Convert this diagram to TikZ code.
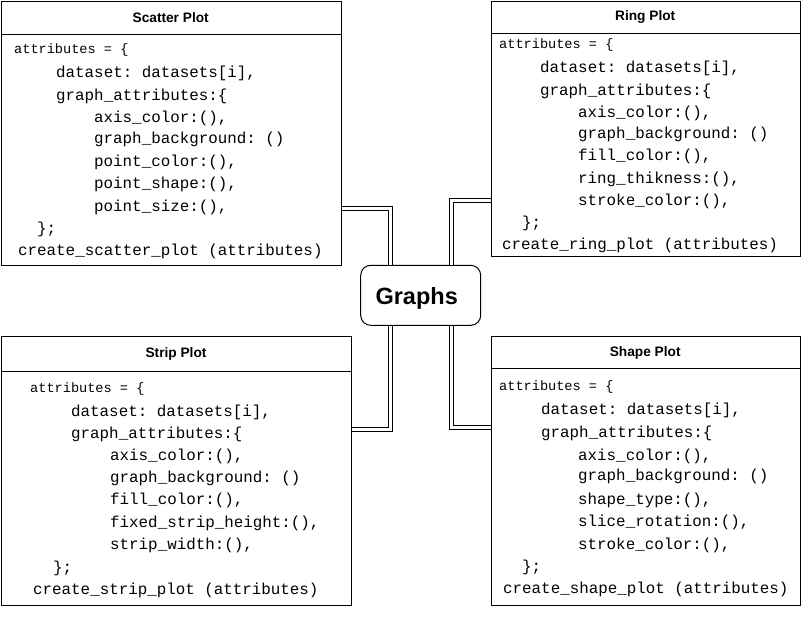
\documentclass[tikz,border=0pt]{standalone}
\usepackage{fontspec}
\setmainfont{Liberation Sans}
\setmonofont{Liberation Mono}
\begin{document}
\begin{tikzpicture}[x=1pt,y=-1pt,
  box/.style={draw, line width=1pt, inner sep=0pt, anchor=north west},
  titlestyle/.style={inner sep=0pt, font=\fontsize{13.7}{16}\selectfont\bfseries},
  codeline/.style={anchor=base west, inner sep=0pt, font=\ttfamily\fontsize{15.85}{19}\selectfont},
  attrline/.style={anchor=base west, inner sep=0pt, font=\ttfamily\fontsize{13.6}{16}\selectfont},
  hub/.style={draw, line width=1pt, rounded corners=10pt, minimum width=120pt, minimum height=60pt, inner sep=0pt, text height=18pt, text depth=0pt, font=\fontsize{23.5}{28}\selectfont\bfseries},
  link/.style={draw, line width=1pt, double, double distance=3pt}
]
\useasboundingbox (0,0) rectangle (801,619);
\fill[white] (0,0) rectangle (801,619);

% boxes
\node[box, minimum width=339.5pt, minimum height=263.5pt] (scatter) at (1,1) {};
\node[box, minimum width=309.5pt, minimum height=254.5pt] (ring) at (490.5,1) {};
\node[box, minimum width=350pt, minimum height=269.5pt] (strip) at (1,335.5) {};
\node[box, minimum width=309.5pt, minimum height=269.5pt] (shape) at (490.5,335.5) {};
\node[hub] (graphs) at (420.7,295.3) {\hspace*{-8pt}Graphs};

% header lines
\draw[line width=1pt] (scatter.west |- 0,34) -- (scatter.east |- 0,34);
\draw[line width=1pt] (ring.west |- 0,33.5) -- (ring.east |- 0,33.5);
\draw[line width=1pt] (strip.west |- 0,371.5) -- (strip.east |- 0,371.5);
\draw[line width=1pt] (shape.west |- 0,368.5) -- (shape.east |- 0,368.5);

% titles
\node[titlestyle] (scatterT) at (170.7,17.5) {Scatter Plot};
\node[titlestyle] (ringT) at (645.2,17.2) {Ring Plot};
\node[titlestyle] (stripT) at (176,354) {Strip Plot};
\node[titlestyle] (shapeT) at (645.2,352.5) {Shape Plot};

% scatter text
\node[attrline] (s0) at (14,53.5) {attributes = \{};
\node[codeline] (s1) at (56,77.5) {dataset: datasets[i],};
\node[codeline] (s2) at (56,100.3) {graph\_attributes:\{};
\node[codeline] (s3) at (94,122.1) {axis\_color:(),};
\node[codeline] (s4) at (94,143.9) {graph\_background: ()};
\node[codeline] (s5) at (94,166.2) {point\_color:(),};
\node[codeline] (s6) at (94,188.8) {point\_shape:(),};
\node[codeline] (s7) at (94,211.3) {point\_size:(),};
\node[codeline] (s8) at (37,233.6) {\};};
\node[codeline] (s9) at (18,255.9) {create\_scatter\_plot (attributes)};

% ring text
\node[attrline] (r0) at (499,48) {attributes = \{};
\node[codeline] (r1) at (540,72) {dataset: datasets[i],};
\node[codeline] (r2) at (540,95.2) {graph\_attributes:\{};
\node[codeline] (r3) at (578,117.4) {axis\_color:(),};
\node[codeline] (r4) at (578,138.1) {graph\_background: ()};
\node[codeline] (r5) at (578,160.8) {fill\_color:(),};
\node[codeline] (r6) at (578,183) {ring\_thikness:(),};
\node[codeline] (r7) at (578,205.2) {stroke\_color:(),};
\node[codeline] (r8) at (522,227.9) {\};};
\node[codeline] (r9) at (502,249.6) {create\_ring\_plot (attributes)};

% strip text
\node[attrline] (t0) at (30,392) {attributes = \{};
\node[codeline] (t1) at (71,416) {dataset: datasets[i],};
\node[codeline] (t2) at (71,438.3) {graph\_attributes:\{};
\node[codeline] (t3) at (110,460.6) {axis\_color:(),};
\node[codeline] (t4) at (110,482.4) {graph\_background: ()};
\node[codeline] (t5) at (110,504.5) {fill\_color:(),};
\node[codeline] (t6) at (110,527.5) {fixed\_strip\_height:(),};
\node[codeline] (t7) at (110,549.8) {strip\_width:(),};
\node[codeline] (t8) at (53,572.1) {\};};
\node[codeline] (t9) at (33,594) {create\_strip\_plot (attributes)};

% shape text
\node[attrline] (h0) at (499,390.5) {attributes = \{};
\node[codeline] (h1) at (541,414) {dataset: datasets[i],};
\node[codeline] (h2) at (541,437.3) {graph\_attributes:\{};
\node[codeline] (h3) at (578,460.5) {axis\_color:(),};
\node[codeline] (h4) at (578,480.8) {graph\_background: ()};
\node[codeline] (h5) at (578,504) {shape\_type:(),};
\node[codeline] (h6) at (578,526) {slice\_rotation:(),};
\node[codeline] (h7) at (578,549) {stroke\_color:(),};
\node[codeline] (h8) at (522,571.2) {\};};
\node[codeline] (h9) at (503,593.8) {create\_shape\_plot (attributes)};

% connectors
\draw[link] (scatter.east |- 0,208.7) -| (graphs.north -| 390.7,0);
\draw[link] (ring.west |- 0,200.8) -| (graphs.north -| 451,0);
\draw[link] (graphs.south -| 390.7,0) |- (strip.east |- 0,429.2);
\draw[link] (graphs.south -| 451,0) |- (shape.west |- 0,427.7);
\end{tikzpicture}
\end{document}
